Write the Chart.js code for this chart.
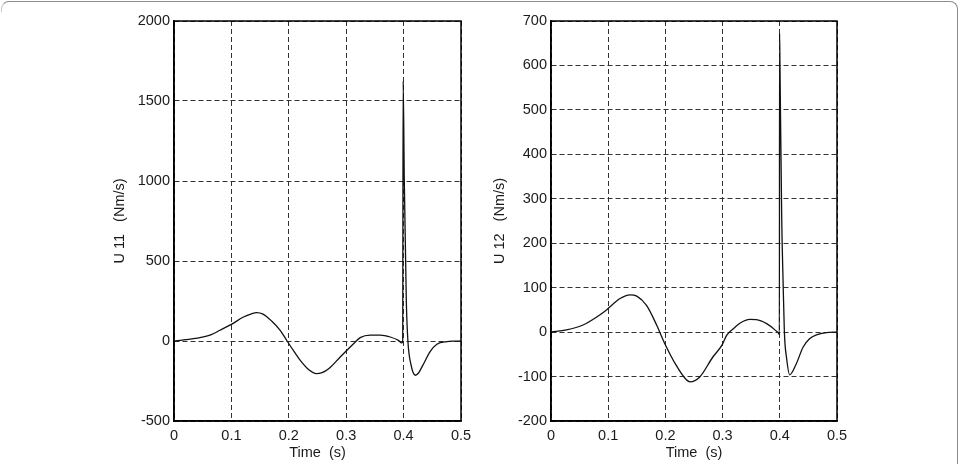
<!DOCTYPE html>
<html>
<head>
<meta charset="utf-8">
<script src="https://cdn.jsdelivr.net/npm/chart.js@4/dist/chart.umd.min.js"></script>
<style>
  html, body { margin: 0; padding: 0; background: #fff; }
  body { width: 961px; height: 464px; position: relative; overflow: hidden; }
  .frame { position: absolute; left: 1px; top: 1px; width: 957px; height: 480px;
           border-top: 1.5px solid #8c8c8c; border-right: 1.5px solid #8c8c8c;
           border-left: 1px solid #c8c8c8;
           border-top-left-radius: 8px; border-top-right-radius: 8px; box-sizing: border-box; }
  .hide-left { position:absolute; left:0; top:12px; width:4px; height:460px; background:#fff; }
  .box { position: absolute; top: 0; height: 464px; }
  #b1 { left: 0; width: 480px; }
  #b2 { left: 480px; width: 481px; }
</style>
</head>
<body>
<div class="frame"></div>
<div class="hide-left"></div>
<div class="box" id="b1"><canvas id="c1" width="480" height="464"></canvas></div>
<div class="box" id="b2"><canvas id="c2" width="481" height="464"></canvas></div>
<script>
// ---- data ----
const timeTicks = [0, 0.1, 0.2, 0.3, 0.4, 0.5];

const u11Time = [0, 0.02, 0.045, 0.065, 0.08, 0.1, 0.121, 0.135, 0.144, 0.155, 0.17, 0.185, 0.197, 0.21, 0.22, 0.235, 0.248, 0.258, 0.27, 0.2896, 0.3012, 0.3128, 0.3244, 0.3418, 0.3593, 0.3767, 0.391, 0.3966, 0.3984, 0.3992, 0.4012, 0.4047, 0.4075, 0.413, 0.4204, 0.426, 0.432, 0.4465, 0.458, 0.4756, 0.488, 0.5];
const u11Values = [0, 8, 21, 40, 67, 104, 150, 170, 177, 168, 125, 67, 0, -70, -121, -180, -204, -198, -172, -100, -58, -17, 21, 37, 37, 25, 4, -12, -8, 1625, 1004, 254, 0, -150, -214, -200, -162, -65, -20, -4, -1, 0];

const u12Time = [0, 0.027, 0.056, 0.08, 0.097, 0.12, 0.138, 0.15, 0.167, 0.185, 0.199, 0.219, 0.235, 0.243, 0.26, 0.283, 0.2986, 0.307, 0.3186, 0.3302, 0.3477, 0.359, 0.377, 0.3914, 0.399, 0.3993, 0.3996, 0.4003, 0.4034, 0.4057, 0.408, 0.412, 0.4173, 0.4289, 0.4406, 0.452, 0.464, 0.4814, 0.5];
const u12Values = [0, 5, 16, 34, 50, 75, 84, 81, 60, 15, -26, -75, -105, -112, -101, -56, -30, -7.5, 7.5, 20, 28.5, 28, 19, 5, -5, -6, 672, 600, 251, 116, 0, -60, -96, -71, -34, -15, -6, -1, 0];

const u11Range = { min: -500, max: 2000, step: 500 };
const u12Range = { min: -200, max: 700, step: 100 };

const FONT = { family: "'Liberation Sans', Arial, sans-serif", size: 14.5 };
const TXT = '#1a1a1a';
const DASH = [5, 3];

const framePlugin = {
  id: 'frame',
  afterDraw(chart) {
    const a = chart.chartArea, ctx = chart.ctx;
    ctx.save();
    ctx.setLineDash([]);
    ctx.strokeStyle = '#000';
    ctx.lineWidth = 1.5;
    ctx.strokeRect(a.left, a.top, a.right - a.left, a.bottom - a.top);
    ctx.restore();
  }
};

function makeChart(id, times, values, range, yTitle, yWidth, rightPad, yTitlePad) {
  const pts = times.map((t, i) => ({ x: t, y: values[i] }));
  return new Chart(document.getElementById(id), {
    type: 'line',
    data: { datasets: [{ data: pts, borderColor: '#111', borderWidth: 1.3, pointRadius: 0,
                         cubicInterpolationMode: 'monotone', fill: false }] },
    options: {
      responsive: false, animation: false, devicePixelRatio: 1,
      layout: { padding: { left: 0, top: 21, right: rightPad, bottom: 0 } },
      plugins: { legend: { display: false }, tooltip: { enabled: false } },
      scales: {
        x: {
          type: 'linear', min: 0, max: 0.5,
          afterBuildTicks: s => { s.ticks = timeTicks.map(v => ({ value: v })); },
          afterFit: s => { s.height = 43; },
          grid: { color: '#333', lineWidth: 1, drawTicks: false, borderDash: DASH },
          border: { display: true, color: '#000', width: 1.5, dash: DASH },
          ticks: { color: TXT, font: FONT, padding: 6, maxRotation: 0,
                   callback: v => String(Math.round(v * 10) / 10) },
          title: { display: true, text: 'Time  (s)', color: TXT, font: FONT, padding: { top: 0, bottom: 2.3 } }
        },
        y: {
          type: 'linear', min: range.min, max: range.max,
          ticks: { stepSize: range.step, color: TXT, font: FONT, padding: 4,
                   callback: v => String(v) },
          afterFit: s => { s.width = yWidth; },
          grid: { color: '#333', lineWidth: 1, drawTicks: false, borderDash: DASH },
          border: { display: true, color: '#000', width: 1.5, dash: DASH },
          title: { display: true, text: yTitle, color: TXT, font: FONT, padding: { top: yTitlePad, bottom: 0 } }
        }
      }
    },
    plugins: [framePlugin]
  });
}

makeChart('c1', u11Time, u11Values, u11Range, 'U 11   (Nm/s)', 174, 19, 111.3);
makeChart('c2', u12Time, u12Values, u12Range, 'U 12   (Nm/s)', 71, 124, 11.3);
</script>
</body>
</html>
